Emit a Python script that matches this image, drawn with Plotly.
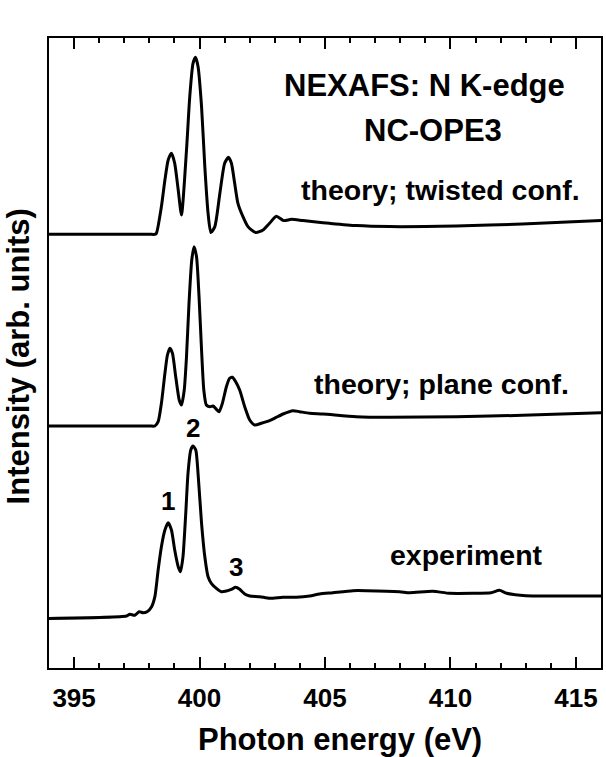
import plotly.graph_objects as go

# ---------------- data (photon energy in eV, intensity in arb. units) ----------------
twisted_E = [394.0, 398.0, 398.22, 398.28, 398.48, 398.62, 398.75, 398.88, 399.01, 399.15,
             399.28, 399.48, 399.61, 399.74, 399.84, 399.94, 400.08, 400.21, 400.34, 400.45,
             400.61, 400.81, 401.00, 401.15, 401.27, 401.40, 401.53, 401.73, 401.93, 402.24,
             402.53, 402.79, 403.06, 403.35, 403.66, 404.12, 404.65, 405.18, 406.24, 407.57,
             410.22, 412.86, 416.0]
twisted_I = [0.0, 0.0, 0.0, 0.01, 0.277, 0.543, 0.743, 0.81, 0.71, 0.443,
             0.193, 0.843, 1.377, 1.71, 1.77, 1.677, 1.277, 0.677, 0.21, 0.017,
             0.077, 0.41, 0.71, 0.77, 0.71, 0.51, 0.31, 0.177, 0.077, 0.017,
             0.043, 0.11, 0.18, 0.137, 0.15, 0.137, 0.123, 0.11, 0.087, 0.077,
             0.083, 0.103, 0.137]

plane_E = [394.0, 398.0, 398.22, 398.35, 398.48, 398.62, 398.72, 398.82, 398.92, 399.05,
           399.19, 399.28, 399.39, 399.48, 399.58, 399.69, 399.78, 399.88, 399.98, 400.08,
           400.17, 400.27, 400.41, 400.54, 400.67, 400.78, 400.91, 401.07, 401.20, 401.31,
           401.44, 401.60, 401.80, 402.00, 402.20, 402.46, 402.79, 403.06, 403.33, 403.72,
           403.99, 404.39, 404.92, 406.24, 407.57, 410.22, 412.87, 416.0]
plane_I = [0.0, 0.0, 0.0, 0.043, 0.227, 0.527, 0.71, 0.777, 0.727, 0.493,
           0.26, 0.21, 0.36, 0.693, 1.227, 1.66, 1.793, 1.693, 1.293, 0.76,
           0.36, 0.21, 0.193, 0.2, 0.167, 0.143, 0.227, 0.393, 0.477, 0.487,
           0.443, 0.36, 0.193, 0.06, 0.01, 0.027, 0.053, 0.087, 0.12, 0.153,
           0.143, 0.127, 0.12, 0.093, 0.087, 0.093, 0.107, 0.133]

exp_E = [393.75, 397.09, 397.22, 397.42, 397.59, 397.75, 397.91, 398.09, 398.22, 398.35,
         398.48, 398.62, 398.75, 398.88, 399.01, 399.15, 399.24, 399.34, 399.45, 399.54,
         399.65, 399.74, 399.85, 399.94, 400.08, 400.21, 400.34, 400.47, 400.67, 400.87,
         401.07, 401.27, 401.44, 401.60, 401.80, 402.00, 402.40, 402.79, 403.32, 403.86,
         404.39, 404.78, 405.31, 406.11, 406.64, 407.97, 408.37, 409.29, 409.96, 410.88,
         411.62, 411.95, 412.24, 413.01, 413.94, 416.0]
exp_I = [0.0, 0.025, 0.042, 0.032, 0.068, 0.058, 0.068, 0.118, 0.218, 0.485,
         0.718, 0.885, 0.958, 0.885, 0.685, 0.518, 0.468, 0.618, 1.052, 1.452,
         1.685, 1.725, 1.685, 1.452, 0.952, 0.618, 0.418, 0.352, 0.302, 0.268,
         0.275, 0.292, 0.312, 0.292, 0.245, 0.225, 0.218, 0.202, 0.212, 0.212,
         0.225, 0.245, 0.258, 0.278, 0.278, 0.268, 0.258, 0.272, 0.252, 0.252,
         0.258, 0.282, 0.252, 0.228, 0.225, 0.225]

# vertical offsets of the stacked spectra
offset_twisted = 4.337
offset_plane = 2.42
offset_exp = 0.495

x_ticks = [395, 400, 405, 410, 415]
x_range = [394, 416]
y_range = [0, 6.30]

FONT = "Liberation Sans, Arial, sans-serif"

fig = go.Figure()
for E, I, off in [(twisted_E, twisted_I, offset_twisted),
                  (plane_E, plane_I, offset_plane),
                  (exp_E, exp_I, offset_exp)]:
    fig.add_trace(go.Scatter(
        x=E, y=[v + off for v in I], mode="lines", cliponaxis=False,
        line=dict(color="black", width=3, shape="spline", smoothing=0.6),
        showlegend=False, hoverinfo="skip"))

annots = [
    dict(x=408.95, y=5.824, text="<b>NEXAFS: N K-edge</b>", size=31),
    dict(x=409.29, y=5.371, text="<b>NC-OPE3</b>", size=31),
    dict(x=409.6, y=4.783, text="<b>theory; twisted conf.</b>", size=28.5),
    dict(x=409.63, y=2.838, text="<b>theory; plane conf.</b>", size=28.5),
    dict(x=410.65, y=1.135, text="<b>experiment</b>", size=28.5),
    dict(x=398.73, y=1.672, text="<b>1</b>", size=26),
    dict(x=399.75, y=2.397, text="<b>2</b>", size=26),
    dict(x=401.45, y=1.013, text="<b>3</b>", size=26),
]
for a in annots:
    fig.add_annotation(x=a["x"], y=a["y"], xref="x", yref="y", text=a["text"],
                       xanchor="center", yanchor="middle",
                       showarrow=False, font=dict(family=FONT, size=a["size"], color="black"))

fig.add_annotation(x=-0.055, y=0.494, xref="paper", yref="paper",
                   xanchor="center", yanchor="middle",
                   text="<b>Intensity (arb. units)</b>", textangle=-90, showarrow=False,
                   font=dict(family=FONT, size=31, color="black"))
fig.add_annotation(x=0.527, y=-0.114, xref="paper", yref="paper",
                   xanchor="center", yanchor="middle",
                   text="<b>Photon energy (eV)</b>", showarrow=False,
                   font=dict(family=FONT, size=31, color="black"))

fig.update_layout(
    width=606, height=757,
    margin=dict(l=49, r=3, t=38, b=89),
    paper_bgcolor="white", plot_bgcolor="white",
    xaxis=dict(range=x_range, tickvals=x_ticks, ticktext=[f"<b>{t}</b>" for t in x_ticks],
               ticks="inside", ticklen=11, tickwidth=2, tickcolor="black",
               ticklabelstandoff=6,
               showline=True, linewidth=2, linecolor="black", mirror="ticks",
               showgrid=False, zeroline=False,
               minor=dict(dtick=1, tick0=394, ticks="inside", ticklen=5, tickwidth=1.6,
                          tickcolor="black", showgrid=False),
               tickfont=dict(family=FONT, size=26, color="black")),
    yaxis=dict(range=y_range, showticklabels=False, ticks="",
               showline=True, linewidth=2, linecolor="black", mirror=True,
               showgrid=False, zeroline=False),
)

fig.write_html("out.html", config={"displayModeBar": False},
               post_script="document.body.style.margin='0';")
